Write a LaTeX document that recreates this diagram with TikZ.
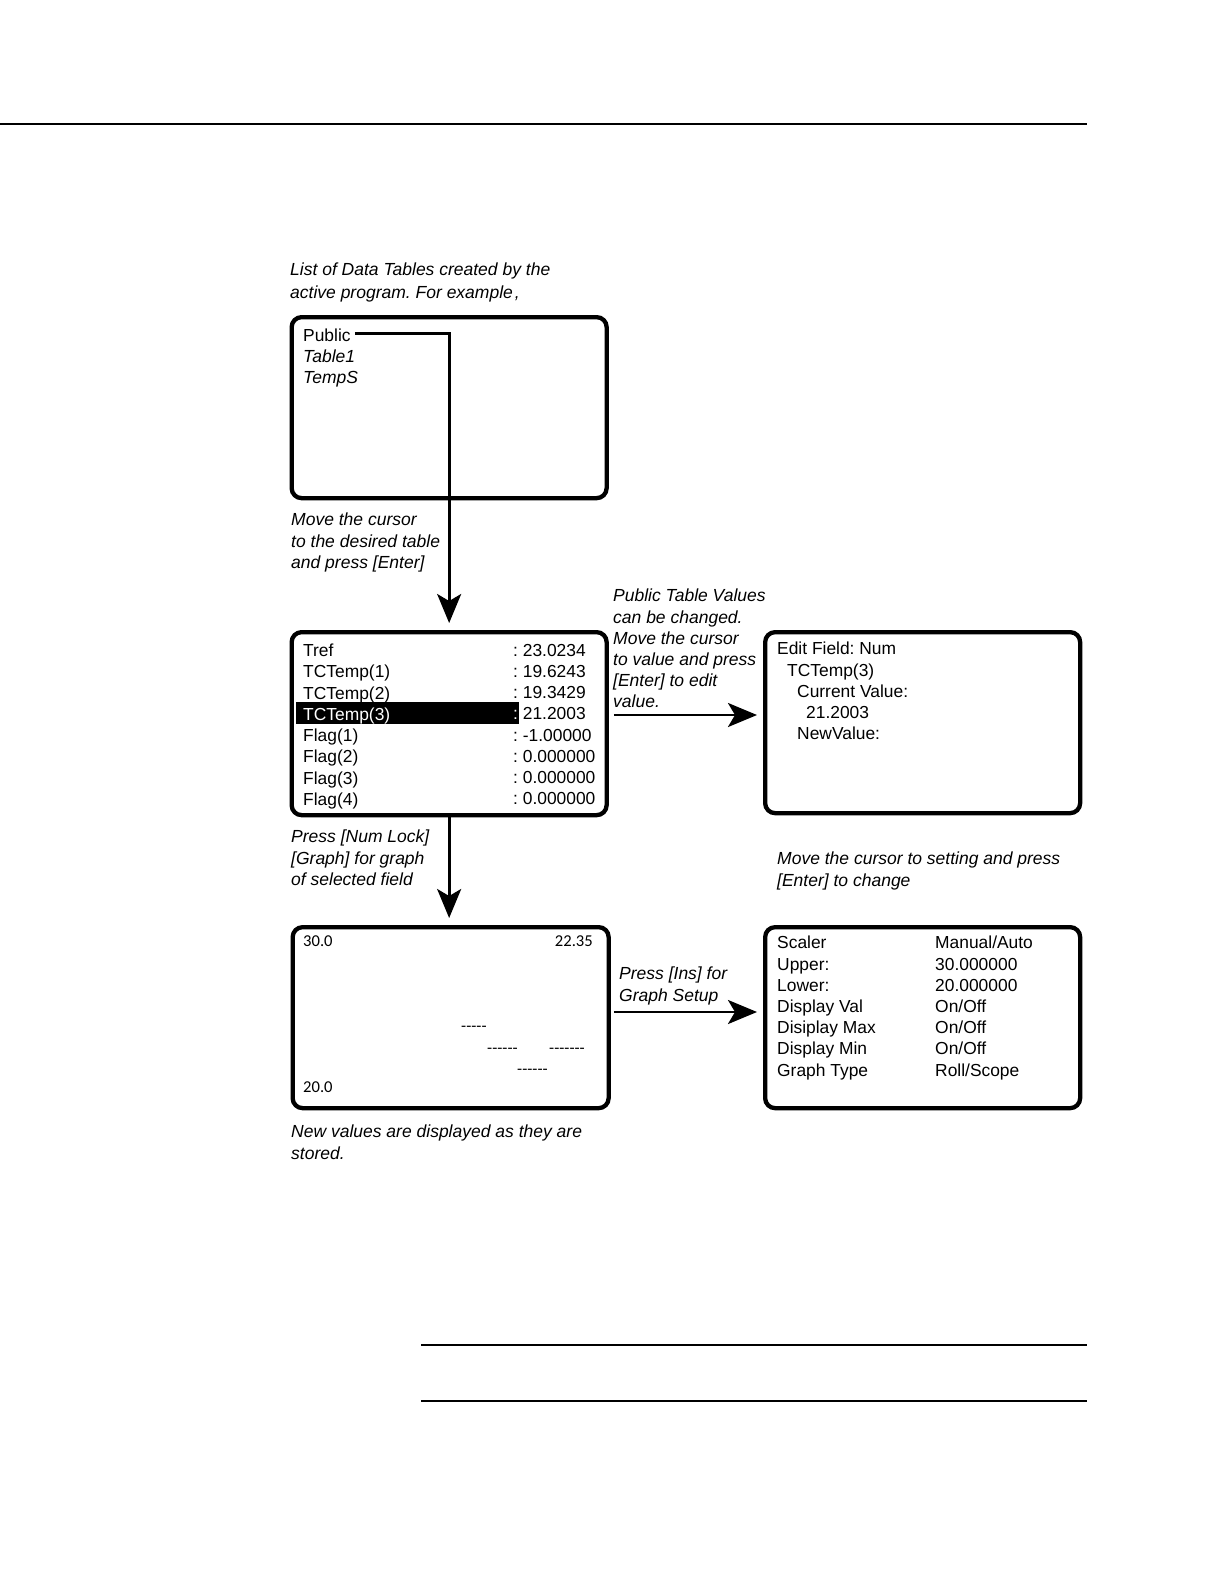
\documentclass[tikz,border=0pt]{standalone}
\usepackage{fontspec}
\setmainfont{Liberation Sans}
\newfontfamily\graphfont{Carlito}
\usetikzlibrary{arrows.meta}
\frenchspacing
\begin{document}
\begin{tikzpicture}[x=1pt,y=-1pt,
  scr/.style={draw, line width=4.3pt, rounded corners=10pt, anchor=north west, inner sep=0pt},
  conn/.style={line width=2.8pt, -{Stealth[length=29pt,width=24pt,inset=7pt]}},
  txt/.style={inner sep=0pt, anchor=north west, align=left, font=\fontsize{17.4}{21.2}\selectfont},
  capt/.style={inner sep=0pt, anchor=north west, align=left, font=\fontsize{17.5}{21.2}\selectfont\itshape},
  gtxt/.style={inner sep=0pt, font=\graphfont\fontsize{16.6}{20}\selectfont},
  rulethick/.style={line width=2.5pt},
  rulethin/.style={line width=1.5pt}]
\useasboundingbox (0,0) rectangle (1224,1584);

% page rules
\draw[rulethick] (0,124) -- (1087,124);
\draw[rulethick] (421,1345) -- (1087,1345);
\draw[rulethin] (421,1401) -- (1087,1401);

% screens
\node[scr, minimum width=315pt, minimum height=181pt] (b1) at (289.5,315) {};
\node[scr, minimum width=315pt, minimum height=183pt] (b2) at (289.5,630) {};
\node[scr, minimum width=315pt, minimum height=181pt] (b3) at (763,630) {};
\node[scr, minimum width=316pt, minimum height=181pt] (b4) at (290.5,925) {};
\node[scr, minimum width=315pt, minimum height=181pt] (b5) at (763,925) {};

% captions
\node[capt, font=\fontsize{17.5}{22.2}\selectfont\itshape] (cap1) at (290,263) {List of Data Tables created by the\\active program. For example\kern2pt,};
\node[capt] (cap2) at (291,513) {Move the cursor\\to the desired table\\and press [Enter]};
\node[capt] (cap3) at (613,589) {Public Table Values\\can be changed.\\Move the cursor\\to value and press\\{[Enter]} to edit\\value.};
\node[capt] (cap4) at (291,830) {Press [Num Lock]\\{[Graph]} for graph\\of selected field};
\node[capt] (cap5) at (777,852) {Move the cursor to setting and press\\{[Enter]} to change};
\node[capt] (cap6) at (619,967) {Press [Ins] for\\Graph Setup};
\node[capt] (cap7) at (291,1125) {New values are displayed as they are\\stored.};

% screen 1
\node[txt] (pub) at (303,329) {Public};
\node[capt] (tabs) at (303,349.5) {Table1\\TempS};

% screen 2
\node[fill=black, anchor=north west, inner sep=0pt, minimum width=223pt, minimum height=22pt] (hl) at (296,702) {};
\node[txt] (b2l) at (303,644) {Tref\\TCTemp(1)\\TCTemp(2)\\\textcolor{white}{TCTemp(3)}\\Flag(1)\\Flag(2)\\Flag(3)\\Flag(4)};
\node[txt] (b2v) at (513,644) {: 23.0234\\: 19.6243\\: 19.3429\\\textcolor{white}{:} 21.2003\\: -1.00000\\: 0.000000\\: 0.000000\\: 0.000000};

% screen 3
\node[txt] (b3t) at (777,642) {Edit Field: Num\\\hspace*{10pt}TCTemp(3)\\\hspace*{20pt}Current Value:\\\hspace*{29pt}21.2003\\\hspace*{20pt}NewValue:};

% screen 4 (graph)
\node[gtxt, anchor=north west] (gtop) at (303,935.5) {30.0};
\node[gtxt, anchor=north east] (gcur) at (593,935.5) {22.35};
\node[gtxt, anchor=north west] (gbot) at (303,1081.5) {20.0};
\node[gtxt, anchor=west] (d1) at (461,1029) {-{}-{}-{}-{}-};
\node[gtxt, anchor=west] (d2) at (487,1051) {-{}-{}-{}-{}-{}-};
\node[gtxt, anchor=west] (d3) at (549,1051) {-{}-{}-{}-{}-{}-{}-};
\node[gtxt, anchor=west] (d4) at (517,1072) {-{}-{}-{}-{}-{}-};

% screen 5
\node[txt] (b5l) at (777,936) {Scaler\\Upper:\\Lower:\\Display Val\\Disiplay Max\\Display Min\\Graph Type};
\node[txt] (b5v) at (935,936) {Manual/Auto\\30.000000\\20.000000\\On/Off\\On/Off\\On/Off\\Roll/Scope};

% connectors
\coordinate (ya) at (0,715);
\coordinate (yb) at (0,1012);
\draw[conn, shorten >=7pt] ([shift={(4,-8)}]pub.base east) -| (b2.north);
\draw[conn, shorten <=5pt, shorten >=6pt] (b2.east |- ya) -- (b3.west |- ya);
\draw[conn, shorten >=7pt] (b2.south) -- (b2.south |- b4.north);
\draw[conn, shorten <=3pt, shorten >=6pt] (b4.east |- yb) -- (b5.west |- yb);
\end{tikzpicture}
\end{document}
